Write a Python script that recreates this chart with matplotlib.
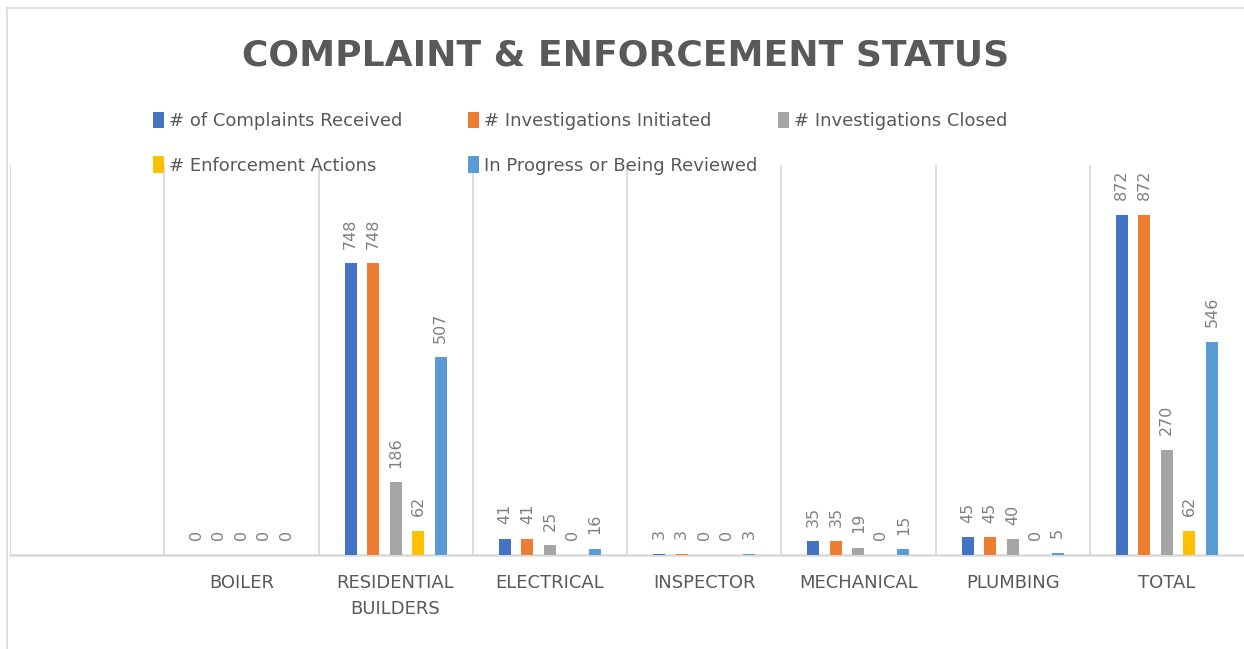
#!/usr/bin/env python3
"""
Complaint & enforcement status chart (grouped columns, Excel style)
"""
import numpy as np
import matplotlib
matplotlib.use("Agg")
import matplotlib.pyplot as plt
from matplotlib.lines import Line2D

# data
categories = ["", "BOILER", "RESIDENTIAL\nBUILDERS", "ELECTRICAL", "INSPECTOR",
              "MECHANICAL", "PLUMBING", "TOTAL"]
series_names = ["# of Complaints Received", "# Investigations Initiated",
                "# Investigations Closed", "# Enforcement Actions",
                "In Progress or Being Reviewed"]
complaints_received = [None, 0, 748, 41, 3, 35, 45, 872]
investigations_initiated = [None, 0, 748, 41, 3, 35, 45, 872]
investigations_closed = [None, 0, 186, 25, 0, 19, 40, 270]
enforcement_actions = [None, 0, 62, 0, 0, 0, 0, 62]
in_progress = [None, 0, 507, 16, 3, 15, 5, 546]

colors = ["#4472C4", "#ED7D31", "#A5A5A5", "#FFC000", "#5B9BD5"]
grid_color = "#D9D9D9"
text_gray = "#595959"
label_gray = "#808080"

all_series = [complaints_received, investigations_initiated, investigations_closed,
              enforcement_actions, in_progress]

fig = plt.figure(figsize=(12.44, 6.49), dpi=100)
# chart frame: only its left and top edges fall inside the picture
fx, fy = 7 / 1244, 1 - 8 / 649
fig.add_artist(Line2D([fx, fx], [0, fy], color=grid_color, linewidth=1.2,
                      transform=fig.transFigure))
fig.add_artist(Line2D([fx, 1], [fy, fy], color=grid_color, linewidth=1.2,
                      transform=fig.transFigure))

ax = fig.add_axes([10 / 1244, 1 - 555 / 649, 1234 / 1244, 390 / 649])

x = np.arange(len(categories))
pitch = 0.146
width = 0.078
handles = []
for i, (vals, col) in enumerate(zip(all_series, colors)):
    offs = (i - 2) * pitch
    xs = [xi + offs for xi, v in zip(x, vals) if v is not None]
    ys = [v for v in vals if v is not None]
    bars = ax.bar(xs, ys, width=width, color=col, zorder=3)
    handles.append(bars)
    for bx, by in zip(xs, ys):
        ax.annotate(str(by), (bx, by), xytext=(0, 10.5), textcoords="offset points",
                    rotation=90, ha="center", va="bottom", fontsize=11.5,
                    color=label_gray)

ax.set_xlim(-0.5, len(categories) - 0.5)
ax.set_ylim(0, 1000)
ax.set_yticks([])
ax.set_xticks(x)
ax.set_xticklabels(categories, fontsize=13, color=text_gray, linespacing=1.55)
ax.tick_params(axis="x", length=0, pad=14)
# category separators; the last one falls off the picture's right edge
for b in np.arange(-0.5, len(categories) - 1, 1.0):
    ax.axvline(b, color=grid_color, linewidth=1.3, zorder=1)
for s in ["top", "right", "left"]:
    ax.spines[s].set_visible(False)
ax.spines["bottom"].set_color(grid_color)
ax.spines["bottom"].set_linewidth(1.8)

fig.text(0.5027, 1 - 56 / 649, "COMPLAINT & ENFORCEMENT STATUS", ha="center",
         va="center", fontsize=26, fontweight="bold", color=text_gray)

# legend: three columns placed like Excel's evenly spaced entries
legend_cols = [([0, 3], 153), ([1, 4], 468), ([2], 778)]
for idx, xpix in legend_cols:
    leg = fig.legend([handles[k] for k in idx], [series_names[k] for k in idx],
                     loc="upper left", bbox_to_anchor=(xpix / 1244, 1 - 112 / 649),
                     frameon=False, fontsize=13, handlelength=0.6, handleheight=1.0,
                     handletextpad=0.3, labelspacing=1.45,
                     borderaxespad=0, borderpad=0)
    for t in leg.get_texts():
        t.set_color(text_gray)

fig.savefig("out.png", dpi=100, facecolor="white")
